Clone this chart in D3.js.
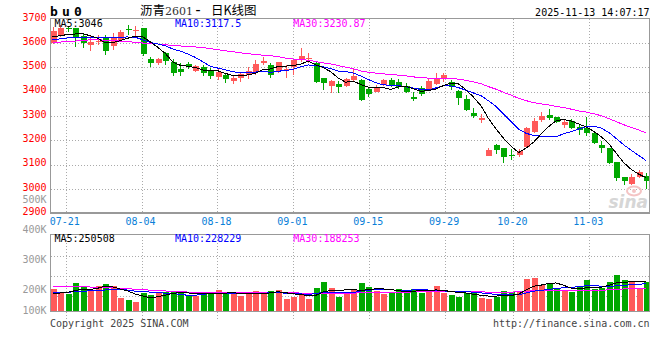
<!DOCTYPE html>
<html><head><meta charset="utf-8">
<script src="https://cdn.jsdelivr.net/npm/d3@7"></script>
<style>body{margin:0;background:#fff}svg{display:block}</style>
</head><body><svg id="c" width="660" height="360"></svg>
<script>
const dates = ["07-17","07-18","07-21","07-22","07-23","07-24","07-25","07-28","07-29","07-30","07-31","08-01","08-04","08-05","08-06","08-07","08-08","08-11","08-12","08-13","08-14","08-15","08-18","08-19","08-20","08-21","08-22","08-25","08-26","08-27","08-28","08-29","09-01","09-02","09-03","09-04","09-05","09-08","09-09","09-10","09-11","09-12","09-15","09-16","09-17","09-18","09-19","09-22","09-23","09-24","09-25","09-26","09-29","09-30","10-09","10-10","10-13","10-14","10-15","10-16","10-17","10-20","10-21","10-22","10-23","10-24","10-27","10-28","10-29","10-30","10-31","11-03","11-04","11-05","11-06","11-07","11-10","11-11","11-12","11-13"];
const opens = [3600,3633,3662,3660,3629,3592,3603,3619,3588,3612,
 3656,3650,3660,3533,3517,3560,3523,3493,3513,3485,
 3503,3489,3462,3469,3444,3457,3469,3482,3517,3510,
 3486,3489,3503,3530,3538,3517,3455,3423,3432,3425,
 3448,3448,3410,3400,3427,3448,3441,3423,3379,3414,
 3411,3431,3451,3441,3404,3369,3314,3284,3137,3181,
 3167,3141,3140,3171,3235,3284,3304,3295,3263,3281,
 3256,3249,3231,3181,3167,3110,3050,3020,3050,3053];
const closes = [3650,3660,3660,3625,3599,3606,3607,3568,3624,3645,
 3654,3652,3554,3519,3534,3527,3478,3482,3503,3506,
 3476,3464,3480,3451,3457,3471,3486,3514,3527,3469,
 3521,3493,3530,3548,3540,3441,3437,3445,3420,3451,
 3466,3366,3390,3416,3448,3427,3418,3400,3370,3390,
 3445,3451,3469,3420,3375,3325,3300,3291,3160,3160,
 3133,3139,3156,3252,3281,3300,3293,3277,3277,3249,
 3242,3229,3188,3167,3106,3046,3033,3050,3068,3033];
const highs = [3665,3674,3672,3663,3640,3627,3633,3633,3640,3653,
 3675,3668,3662,3544,3538,3564,3533,3517,3523,3510,
 3510,3496,3496,3476,3469,3478,3503,3530,3544,3517,
 3523,3510,3533,3578,3558,3523,3457,3448,3445,3457,
 3492,3451,3418,3427,3451,3457,3451,3437,3400,3423,
 3452,3478,3478,3448,3407,3386,3332,3307,3167,3183,
 3169,3163,3163,3256,3290,3318,3328,3297,3284,3286,
 3263,3297,3235,3198,3168,3112,3051,3061,3078,3066];
const lows = [3595,3625,3645,3585,3578,3567,3590,3551,3571,3604,
 3634,3625,3545,3503,3508,3510,3466,3466,3492,3482,
 3464,3451,3448,3437,3432,3441,3451,3469,3510,3457,
 3476,3455,3469,3523,3517,3437,3407,3393,3393,3418,
 3441,3362,3379,3398,3423,3418,3410,3393,3362,3381,
 3407,3427,3441,3407,3345,3321,3293,3270,3134,3144,
 3108,3119,3133,3168,3232,3277,3284,3272,3252,3247,
 3222,3218,3185,3149,3103,3033,3016,3016,3044,2998];
const volumes = [183000,158000,141000,232000,202000,168000,207000,224000,207000,110000,
 91000,75000,147000,133000,147000,158000,158000,166000,124000,124000,
 158000,149000,174000,141000,141000,124000,141000,166000,158000,166000,
 174000,100000,116000,141000,100000,191000,241000,191000,116000,149000,
 183000,232000,199000,166000,141000,158000,183000,166000,183000,149000,
 174000,207000,149000,133000,116000,149000,149000,108000,100000,116000,
 166000,158000,166000,266000,274000,216000,232000,183000,166000,158000,
 199000,257000,183000,191000,241000,299000,257000,249000,183000,241000];
// moving-average values at the left edge (earlier history not shown)
const ma5Head = [3625,3630,3635,3637];
const ma10Head = [3613,3617,3621,3623,3624,3624,3624,3623,3623];
const ma30Head = [3600,3604,3606,3608,3611,3613,3613,3612,3610,3608,3606,3603,3600,3598,3596,3593,3590,3588,3586,3584,3581,3577,3573,3568,3564,3560,3556,3553,3550];
const vma5Head = [148000,150000,155000,170000];
const vma10Head = [150000,152000,155000,162000,165000,168000,172000,175000,180000];
const vma30Head = [205000,205000,205000,205000,204000,200000,198000,197000,195000,190000,186000,182000,178000,174000,170000,167000,164000,161000,158000,156000,155000,154000,153000,153000,152000,152000,152000,153000,154000];
const priceTicks = [2900,3000,3100,3200,3300,3400,3500,3600,3700];
const volTicks = [100000,200000,300000,400000,500000];
const volTickLabels = ["100K","200K","300K","400K","500K"];
const dateTicks = ["07-21","08-04","08-18","09-01","09-15","09-29","10-20","11-03"];
const priceLegend = ["MA5:3046","MA10:3117.5","MA30:3230.87"];
const volLegend = ["MA5:250508","MA10:228229","MA30:188253"];
const titleText = ["沥青","2601","-","日K线图"];
const codeText = "bu0";
const stampText = "2025-11-13 14:07:17";

const RED = "#ff5a5a", GREEN = "#00a800", MACOL = ["#000000","#0000ff","#ff00ff"];
const MONO = "'DejaVu Sans Mono', monospace";
const svg = d3.select("#c");
const L = 50.5, R = 649.3, PT = 18.7, PB = 213.3, VT = 234.3, VB = 311;

const n = dates.length;
const x = d3.scaleLinear().domain([0, n - 1]).range([52.5, 646.3]);
const gx = d3.scaleLinear().domain([2, 71]).range([65.7, 589.3]);
const y = d3.scaleLinear().domain([2900, 3700]).range([PB, PT]);
const yv = d3.scaleLinear().domain([0, 640000]).range([VB, VT]);
const yvLab = d3.scaleLinear().domain([200000, 500000]).range([293.3, 203.3]);

function ma(arr, k, head) {
  return arr.map((_, i) => i < k - 1 ? head[i] : d3.mean(arr.slice(i - k + 1, i + 1)));
}
const pMA = [ma(closes,5,ma5Head), ma(closes,10,ma10Head), ma(closes,30,ma30Head)];
const vMA = [ma(volumes,5,vma5Head), ma(volumes,10,vma10Head), ma(volumes,30,vma30Head)];

const defs = svg.append("defs");
defs.append("clipPath").attr("id","cp").append("rect").attr("x",L).attr("y",PT).attr("width",R-L).attr("height",PB-PT);
defs.append("clipPath").attr("id","cv").append("rect").attr("x",L).attr("y",VT).attr("width",R-L).attr("height",VB-VT);

// grids
const grid = svg.append("g").attr("stroke","#aaa").attr("stroke-dasharray","1,2").attr("shape-rendering","crispEdges");
priceTicks.slice(1, -1).forEach(t => grid.append("line").attr("x1",L).attr("x2",R).attr("y1",Math.round(y(t))+0.5).attr("y2",Math.round(y(t))+0.5));
[1,2,3].forEach(k => { const yy = Math.round(VT + 1.4 + k*20) + 0.5; grid.append("line").attr("x1",L).attr("x2",R).attr("y1",yy).attr("y2",yy); });
dateTicks.forEach(d => {
  const xx = Math.round(gx(dates.indexOf(d))) + 0.5;
  grid.append("line").attr("x1",xx).attr("x2",xx).attr("y1",PT).attr("y2",PB);
  grid.append("line").attr("x1",xx).attr("x2",xx).attr("y1",VT).attr("y2",320);
});

// watermark
const wm = svg.append("g");
wm.append("ellipse").attr("cx",634).attr("cy",191).attr("rx",7).attr("ry",4.5).attr("fill","none").attr("stroke","#f4c4c4").attr("stroke-width",2);
wm.append("circle").attr("cx",634).attr("cy",191).attr("r",2).attr("fill","#f4c4c4");
wm.append("text").attr("x",648).attr("y",208).attr("text-anchor","end").attr("font-family","'DejaVu Sans', sans-serif").attr("font-weight","bold").attr("font-style","italic").attr("font-size",17).attr("fill","#d6d6d6").text("sina");

// candles
const cg = svg.append("g").attr("clip-path","url(#cp)").attr("shape-rendering","crispEdges");
d3.range(n).forEach(i => {
  const up = closes[i] >= opens[i];
  const col = up ? RED : GREEN;
  const cx = Math.round(x(i));
  cg.append("line").attr("x1",cx+0.5).attr("x2",cx+0.5).attr("y1",y(highs[i])).attr("y2",y(lows[i])).attr("stroke",col);
  const top = y(Math.max(opens[i],closes[i])), bot = y(Math.min(opens[i],closes[i]));
  cg.append("rect").attr("x",cx-2.5).attr("width",6).attr("y",top).attr("height",Math.max(1,bot-top)).attr("fill",col);
});
// volume bars
const vg = svg.append("g").attr("clip-path","url(#cv)").attr("shape-rendering","crispEdges");
d3.range(n).forEach(i => {
  const col = closes[i] >= opens[i] ? RED : GREEN;
  const cx = Math.round(x(i));
  vg.append("rect").attr("x",cx-2.5).attr("width",6).attr("y",yv(volumes[i])).attr("height",VB-yv(volumes[i])).attr("fill",col);
});

// MA lines
const lp = d3.line().x((d,i)=>x(i)).y(d=>y(d));
const lv = d3.line().x((d,i)=>x(i)).y(d=>yv(d));
const mg = svg.append("g").attr("fill","none").attr("stroke-width",1).attr("shape-rendering","crispEdges");
[2,1,0].forEach(k => {
  mg.append("path").attr("clip-path","url(#cp)").attr("d",lp(pMA[k])).attr("stroke",MACOL[k]);
  mg.append("path").attr("clip-path","url(#cv)").attr("d",lv(vMA[k])).attr("stroke",MACOL[k]);
});

// frames
const fr = svg.append("g").attr("fill","none").attr("stroke","#999").attr("shape-rendering","crispEdges");
fr.append("rect").attr("x",L).attr("y",PT).attr("width",R-L).attr("height",PB-PT);
fr.append("line").attr("x1",L).attr("x2",R).attr("y1",PB).attr("y2",PB).attr("stroke-width",2);
fr.append("rect").attr("x",L).attr("y",VT).attr("width",R-L).attr("height",VB-VT);

// axis labels
const tx = svg.append("g").attr("font-family",MONO).attr("font-size",10);
priceTicks.forEach(t => tx.append("text").attr("x",46.5).attr("y",y(t)+1.8).attr("text-anchor","end").attr("fill","#f00").text(t));
volTicks.forEach((v,i) => tx.append("text").attr("x",46.5).attr("y",Math.min(yvLab(v),314.3)).attr("text-anchor","end").attr("fill","#999").text(volTickLabels[i]));
dateTicks.forEach(d => tx.append("text").attr("x",gx(dates.indexOf(d))-1).attr("y",224.5).attr("text-anchor","middle").attr("fill","#0a80d8").text(d));

// legends
const lx = [54.5,175,293.3];
priceLegend.forEach((s,k) => tx.append("text").attr("x",lx[k]).attr("y",26.7).attr("fill",MACOL[k]).text(s));
volLegend.forEach((s,k) => tx.append("text").attr("x",lx[k]).attr("y",241.7).attr("fill",MACOL[k]).text(s));

// header / footer
svg.append("text").attr("x",50).attr("y",16).attr("font-family",MONO).attr("font-weight","bold").attr("font-size",13).attr("letter-spacing",4.2).attr("fill","#000").text(codeText);
const tt = svg.append("text").attr("x",140).attr("y",14.5).attr("fill","#000").attr("font-size",12.5).attr("font-family","'Noto Sans CJK SC', sans-serif");
tt.append("tspan").text(titleText[0]);
tt.append("tspan").attr("font-family","'DejaVu Serif', serif").attr("font-size",11).attr("fill","#333").text(titleText[1]);
tt.append("tspan").attr("x",198).attr("text-anchor","middle").attr("font-family",MONO).attr("font-size",15).text(titleText[2]);
tt.append("tspan").attr("x",211).attr("text-anchor","start").text(titleText[3]);
tx.append("text").attr("x",649.5).attr("y",15.7).attr("text-anchor","end").attr("fill","#000").text(stampText);
tx.append("text").attr("x",50).attr("y",326.7).attr("fill","#444").text("Copyright 2025 SINA.COM");
tx.append("text").attr("x",649.5).attr("y",326.7).attr("text-anchor","end").attr("fill","#444").text("http://finance.sina.com.cn");
</script></body></html>
